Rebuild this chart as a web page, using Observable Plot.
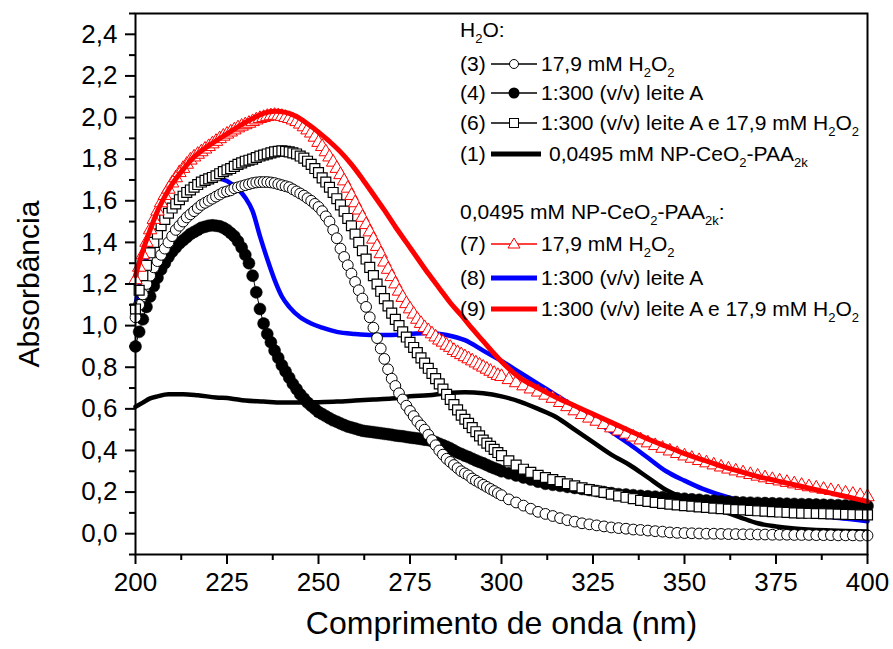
<!DOCTYPE html>
<html><head><meta charset="utf-8">
<script src="https://cdn.jsdelivr.net/npm/d3@7"></script>
<script src="https://cdn.jsdelivr.net/npm/@observablehq/plot@0.6"></script>
<style>
body{margin:0;background:#fff;}
#wrap{position:relative;width:893px;height:649px;font-family:"Liberation Sans",Arial,sans-serif;}
#legend{position:absolute;left:0;top:0;pointer-events:none;}
</style></head><body><div id="wrap"></div>
<script>
// ---------- data ----------
// wavelength grid of the marker series (nm)
const markerWavelength = d3.range(200, 301, 1).concat(d3.range(302, 401, 2));

// (3) H2O + 17,9 mM H2O2 (open circles)
const abs3 = [1.04,1.10,1.15,1.20,1.24,1.28,1.31,1.34,1.37,1.40,
1.43,1.46,1.48,1.50,1.52,1.535,1.55,1.565,1.58,1.59,
1.60,1.61,1.62,1.63,1.64,1.645,1.65,1.66,1.665,1.67,
1.675,1.68,1.685,1.688,1.69,1.69,1.69,1.688,1.685,1.68,
1.675,1.67,1.665,1.655,1.645,1.635,1.625,1.612,1.60,1.585,
1.57,1.55,1.525,1.50,1.46,1.42,1.37,1.33,1.29,1.25,
1.21,1.17,1.13,1.09,1.04,0.99,0.94,0.89,0.84,0.79,
0.745,0.71,0.675,0.645,0.615,0.59,0.565,0.54,0.52,0.50,
0.475,0.45,0.425,0.40,0.38,0.36,0.345,0.33,0.315,0.30,
0.29,0.28,0.265,0.255,0.245,0.235,0.225,0.215,0.205,0.195,0.185,
0.165,0.15,0.135,0.12,0.105,0.095,0.085,0.075,0.065,0.058,
0.05,0.045,0.04,0.035,0.03,0.027,0.024,0.02,0.018,0.015,
0.012,0.01,0.006,0.004,0.003,0.002,0.001,0.0,0.0,-0.001,
-0.002,-0.002,-0.003,-0.003,-0.004,-0.004,-0.005,-0.005,-0.005,-0.006,
-0.006,-0.006,-0.007,-0.007,-0.007,-0.008,-0.008,-0.008,-0.009,-0.009];

// (4) H2O + 1:300 leite A (filled circles)
const abs4 = [0.90,0.97,1.03,1.09,1.14,1.19,1.23,1.27,1.30,1.33,
1.355,1.375,1.395,1.41,1.425,1.44,1.45,1.46,1.47,1.475,
1.48,1.482,1.48,1.477,1.47,1.46,1.445,1.43,1.405,1.375,
1.34,1.30,1.24,1.16,1.08,1.01,0.96,0.92,0.88,0.845,
0.81,0.78,0.75,0.72,0.695,0.67,0.65,0.63,0.615,0.60,
0.585,0.575,0.565,0.555,0.545,0.538,0.53,0.522,0.515,0.51,
0.505,0.50,0.495,0.492,0.49,0.488,0.485,0.483,0.48,0.478,
0.475,0.472,0.47,0.468,0.465,0.462,0.46,0.458,0.455,0.452,
0.45,0.445,0.44,0.432,0.425,0.418,0.41,0.40,0.39,0.383,
0.375,0.368,0.36,0.352,0.345,0.338,0.33,0.322,0.315,0.308,0.30,
0.29,0.28,0.27,0.26,0.25,0.24,0.235,0.23,0.225,0.22,
0.215,0.21,0.205,0.20,0.195,0.19,0.188,0.185,0.182,0.18,
0.178,0.175,0.172,0.17,0.168,0.165,0.163,0.16,0.158,0.156,
0.154,0.152,0.15,0.149,0.148,0.147,0.146,0.145,0.144,0.143,
0.142,0.141,0.14,0.139,0.138,0.137,0.136,0.135,0.134,0.133];

// (6) H2O + leite A + H2O2 (open squares)
const abs6 = [1.08,1.17,1.24,1.29,1.35,1.40,1.44,1.48,1.51,1.54,
1.565,1.585,1.605,1.622,1.64,1.652,1.665,1.678,1.69,1.698,
1.705,1.712,1.72,1.73,1.74,1.748,1.755,1.765,1.775,1.782,
1.79,1.795,1.80,1.808,1.815,1.82,1.825,1.83,1.835,1.838,
1.84,1.838,1.835,1.83,1.825,1.815,1.805,1.79,1.775,1.755,
1.735,1.71,1.69,1.665,1.64,1.61,1.58,1.55,1.515,1.48,
1.44,1.40,1.36,1.32,1.28,1.24,1.20,1.165,1.13,1.095,
1.06,1.03,1.00,0.97,0.945,0.92,0.895,0.87,0.845,0.82,
0.795,0.77,0.745,0.72,0.695,0.67,0.645,0.62,0.595,0.57,
0.55,0.53,0.51,0.49,0.47,0.45,0.435,0.42,0.405,0.39,0.375,
0.35,0.33,0.31,0.295,0.28,0.27,0.26,0.25,0.24,0.23,
0.22,0.212,0.205,0.198,0.19,0.182,0.175,0.168,0.16,0.155,
0.15,0.146,0.142,0.138,0.135,0.132,0.129,0.126,0.123,0.12,
0.118,0.116,0.114,0.112,0.11,0.108,0.106,0.104,0.102,0.10,
0.099,0.098,0.097,0.096,0.095,0.094,0.093,0.092,0.091,0.09];

// (7) NP-CeO2-PAA2k + H2O2 (open red triangles)
const abs7 = [1.22,1.28,1.34,1.40,1.46,1.51,1.55,1.59,1.625,1.655,
1.685,1.71,1.735,1.755,1.775,1.795,1.81,1.823,1.835,1.848,
1.86,1.873,1.885,1.898,1.91,1.92,1.93,1.94,1.95,1.958,
1.965,1.972,1.98,1.988,1.995,2.0,2.005,2.008,2.01,2.008,
2.005,2.0,1.995,1.988,1.98,1.968,1.955,1.94,1.925,1.905,
1.88,1.86,1.835,1.81,1.785,1.755,1.725,1.695,1.66,1.625,
1.59,1.555,1.52,1.485,1.45,1.415,1.38,1.345,1.305,1.27,
1.235,1.20,1.165,1.135,1.105,1.08,1.055,1.03,1.01,0.99,
0.975,0.96,0.945,0.93,0.92,0.905,0.895,0.88,0.87,0.86,
0.85,0.84,0.83,0.82,0.81,0.80,0.79,0.78,0.77,0.76,0.755,
0.74,0.725,0.71,0.695,0.68,0.665,0.65,0.63,0.61,0.59,
0.572,0.555,0.54,0.524,0.508,0.493,0.478,0.464,0.45,0.436,
0.423,0.41,0.397,0.385,0.373,0.362,0.351,0.34,0.33,0.32,
0.31,0.301,0.292,0.284,0.276,0.268,0.26,0.253,0.246,0.239,
0.232,0.225,0.219,0.213,0.207,0.201,0.195,0.189,0.183,0.177];

// (1) NP-CeO2-PAA2k in water (thick black line)
const wl1 = [200,202,204,206,209,213,217,222,226,230,235,240,245,250,255,260,265,270,275,280,285,290,295,300,305,310,315,320,325,330,335,340,345,350,355,360,365,370,375,380,390,400];
const abs1 = [0.61,0.63,0.65,0.66,0.67,0.67,0.665,0.655,0.65,0.64,0.635,0.63,0.63,0.632,0.635,0.64,0.645,0.65,0.66,0.665,0.675,0.68,0.675,0.66,0.635,0.60,0.56,0.50,0.44,0.38,0.33,0.27,0.21,0.17,0.14,0.11,0.08,0.05,0.035,0.025,0.015,0.01];

// (8) NP-CeO2-PAA2k + leite A (blue line)
const wl8 = [200,202,204,206,208,210,213,216,219,222,225,228,230,232,234,236,238,240,242,245,248,251,255,260,265,270,275,280,285,290,295,300,305,310,315,320,325,330,335,340,345,350,355,360,365,370,375,380,385,390,395,400];
const abs8 = [1.10,1.27,1.38,1.46,1.53,1.58,1.635,1.67,1.70,1.71,1.695,1.655,1.615,1.55,1.43,1.32,1.22,1.14,1.09,1.04,1.01,0.99,0.97,0.96,0.955,0.955,0.96,0.965,0.955,0.93,0.88,0.83,0.775,0.72,0.665,0.61,0.55,0.49,0.43,0.365,0.30,0.255,0.215,0.185,0.16,0.14,0.12,0.105,0.095,0.08,0.07,0.06];

// (9) NP-CeO2-PAA2k + leite A + H2O2 (thick red line)
const wl9 = [200,202,204,206,208,210,213,216,220,224,228,232,235,238,241,244,247,250,253,256,259,262,265,268,271,274,277,280,283,286,289,292,295,298,301,305,310,315,320,325,330,335,340,345,350,355,360,365,370,375,380,385,390,395,400];
const abs9 = [1.24,1.36,1.46,1.55,1.62,1.68,1.75,1.81,1.865,1.91,1.955,1.995,2.02,2.03,2.025,2.005,1.97,1.93,1.885,1.835,1.775,1.705,1.63,1.555,1.475,1.40,1.325,1.25,1.18,1.11,1.05,0.985,0.925,0.865,0.81,0.75,0.70,0.655,0.615,0.575,0.535,0.495,0.455,0.42,0.385,0.355,0.325,0.30,0.275,0.255,0.235,0.215,0.195,0.175,0.155];

// axis ticks
const xMajor = [200,225,250,275,300,325,350,375,400];
const xMinor = [212.5,237.5,262.5,287.5,312.5,337.5,362.5,387.5];
const yMajor = [0,0.2,0.4,0.6,0.8,1.0,1.2,1.4,1.6,1.8,2.0,2.2,2.4];
const yMinor = [-0.1,0.1,0.3,0.5,0.7,0.9,1.1,1.3,1.5,1.7,1.9,2.1,2.3,2.5];

// ---------- chart ----------
const rows = (xs, ys) => xs.map((x, i) => ({x, y: ys[i]}));
const s3 = rows(markerWavelength, abs3);
const s4 = rows(markerWavelength, abs4);
const s6 = rows(markerWavelength, abs6);
const s7 = rows(markerWavelength, abs7);
const s1 = rows(wl1, abs1);
const s8 = rows(wl8, abs8);
const s9 = rows(wl9, abs9);
const yFmt = d => d.toFixed(1).replace(".", ",");
const FONT = '"Liberation Sans", Arial, sans-serif';

const chart = Plot.plot({
  width: 893, height: 649,
  marginLeft: 135, marginRight: 26, marginTop: 13, marginBottom: 95,
  x: {domain: [200, 400]},
  y: {domain: [-0.1, 2.5]},
  style: {fontFamily: FONT, background: "white", color: "black", overflow: "visible"},
  marks: [
    Plot.line(s1, {x: "x", y: "y", stroke: "black", strokeWidth: 4.5, curve: "monotone-x"}),
    Plot.line(s8, {x: "x", y: "y", stroke: "#0000ff", strokeWidth: 4.5, curve: "monotone-x"}),
    Plot.line(s4, {x: "x", y: "y", stroke: "black", strokeWidth: 1, curve: "monotone-x"}),
    Plot.dot(s4, {x: "x", y: "y", r: 6, fill: "black", stroke: "black", strokeWidth: 0.5}),
    Plot.line(s3, {x: "x", y: "y", stroke: "black", strokeWidth: 1, curve: "monotone-x"}),
    Plot.dot(s3, {x: "x", y: "y", r: 5.4, fill: "white", stroke: "black", strokeWidth: 1}),
    Plot.line(s6, {x: "x", y: "y", stroke: "black", strokeWidth: 1, curve: "monotone-x"}),
    Plot.dot(s6, {x: "x", y: "y", r: 5.6, symbol: "square", fill: "white", stroke: "black", strokeWidth: 1.2}),
    Plot.line(s7, {x: "x", y: "y", stroke: "red", strokeWidth: 1, curve: "monotone-x"}),
    Plot.dot(s7, {x: "x", y: "y", r: 5, symbol: "triangle", fill: "white", stroke: "red", strokeWidth: 1}),
    Plot.line(s9, {x: "x", y: "y", stroke: "red", strokeWidth: 5, curve: "monotone-x"}),
    Plot.axisX({ticks: xMajor, tickSize: 10, tickPadding: 8, fontSize: 26, label: null, strokeWidth: 2}),
    Plot.axisX({ticks: xMinor, tickSize: 6, text: null, label: null, strokeWidth: 2}),
    Plot.axisY({ticks: yMajor, tickSize: 10, tickPadding: 8, fontSize: 26, tickFormat: yFmt, label: null, strokeWidth: 2}),
    Plot.axisY({ticks: yMinor, tickSize: 6, text: null, label: null, strokeWidth: 2}),
    Plot.frame({stroke: "black", strokeWidth: 2}),
    Plot.text(["Comprimento de onda (nm)"], {text: d => d, frameAnchor: "bottom", dy: 79, fontSize: 32}),
    Plot.text(["Absorbância"], {text: d => d, frameAnchor: "left", textAnchor: "middle", dx: -106, rotate: -90, fontSize: 30})
  ]
});
const wrap = document.getElementById("wrap");
wrap.appendChild(chart);

// ---------- legend ----------
const leg = d3.select(wrap).append("svg").attr("id", "legend")
  .attr("width", 893).attr("height", 649)
  .style("font-family", FONT).style("font-size", "21px");

function richText(x, y, parts) {
  const t = leg.append("text").attr("x", x).attr("y", y).attr("fill", "black");
  let shifted = false;
  parts.forEach(p => {
    const sub = Array.isArray(p);
    const s = t.append("tspan").text(sub ? p[0] : p);
    if (sub && !shifted) { s.attr("dy", 6).style("font-size", "13px"); shifted = true; }
    else if (sub) { s.style("font-size", "13px"); }
    else if (!sub && shifted) { s.attr("dy", -6); shifted = false; }
  });
}
const LX = 460, SX0 = 491, SX1 = 537, MX = 514, TX = 541;
function sample(y, kind) {
  const cy = y - 7;
  if (kind === "thickBlack" || kind === "thickBlue" || kind === "thickRed") {
    const col = kind === "thickBlack" ? "black" : kind === "thickBlue" ? "#0000ff" : "red";
    const x1 = kind === "thickBlack" ? 541 : SX1;
    leg.append("line").attr("x1", SX0).attr("x2", x1).attr("y1", cy).attr("y2", cy)
      .attr("stroke", col).attr("stroke-width", 5);
    return;
  }
  const col = kind === "tri" ? "red" : "black";
  leg.append("line").attr("x1", SX0).attr("x2", SX1).attr("y1", cy).attr("y2", cy)
    .attr("stroke", col).attr("stroke-width", 1.3);
  if (kind === "circle") leg.append("circle").attr("cx", MX).attr("cy", cy).attr("r", 4.5).attr("fill", "white").attr("stroke", "black");
  if (kind === "dot") leg.append("circle").attr("cx", MX).attr("cy", cy).attr("r", 5.5).attr("fill", "black");
  if (kind === "square") leg.append("rect").attr("x", MX - 4.5).attr("y", cy - 4.5).attr("width", 9).attr("height", 9).attr("fill", "white").attr("stroke", "black");
  if (kind === "tri") leg.append("path").attr("d", `M${MX},${cy - 6}L${MX + 6},${cy + 4}L${MX - 6},${cy + 4}Z`).attr("fill", "white").attr("stroke", "red");
}
const legendRows = [
  {y: 37, label: null, kind: null, tx: LX, parts: ["H", ["2"], "O:"]},
  {y: 71, label: "(3)", kind: "circle", tx: TX, parts: ["17,9 mM H", ["2"], "O", ["2"]]},
  {y: 100, label: "(4)", kind: "dot", tx: TX, parts: ["1:300 (v/v) leite A"]},
  {y: 130, label: "(6)", kind: "square", tx: TX, parts: ["1:300 (v/v) leite A e 17,9 mM H", ["2"], "O", ["2"]]},
  {y: 161, label: "(1)", kind: "thickBlack", tx: 549, parts: ["0,0495 mM NP-CeO", ["2"], "-PAA", ["2k"]]},
  {y: 219, label: null, kind: null, tx: LX, parts: ["0,0495 mM NP-CeO", ["2"], "-PAA", ["2k"], ":"]},
  {y: 251, label: "(7)", kind: "tri", tx: TX, parts: ["17,9 mM H", ["2"], "O", ["2"]]},
  {y: 285, label: "(8)", kind: "thickBlue", tx: TX, parts: ["1:300 (v/v) leite A"]},
  {y: 316, label: "(9)", kind: "thickRed", tx: TX, parts: ["1:300 (v/v) leite A e 17,9 mM H", ["2"], "O", ["2"]]}
];
legendRows.forEach(r => {
  if (r.label) richText(LX, r.y, [r.label]);
  if (r.kind) sample(r.y, r.kind);
  richText(r.tx, r.y, r.parts);
});
</script>
</body></html>
